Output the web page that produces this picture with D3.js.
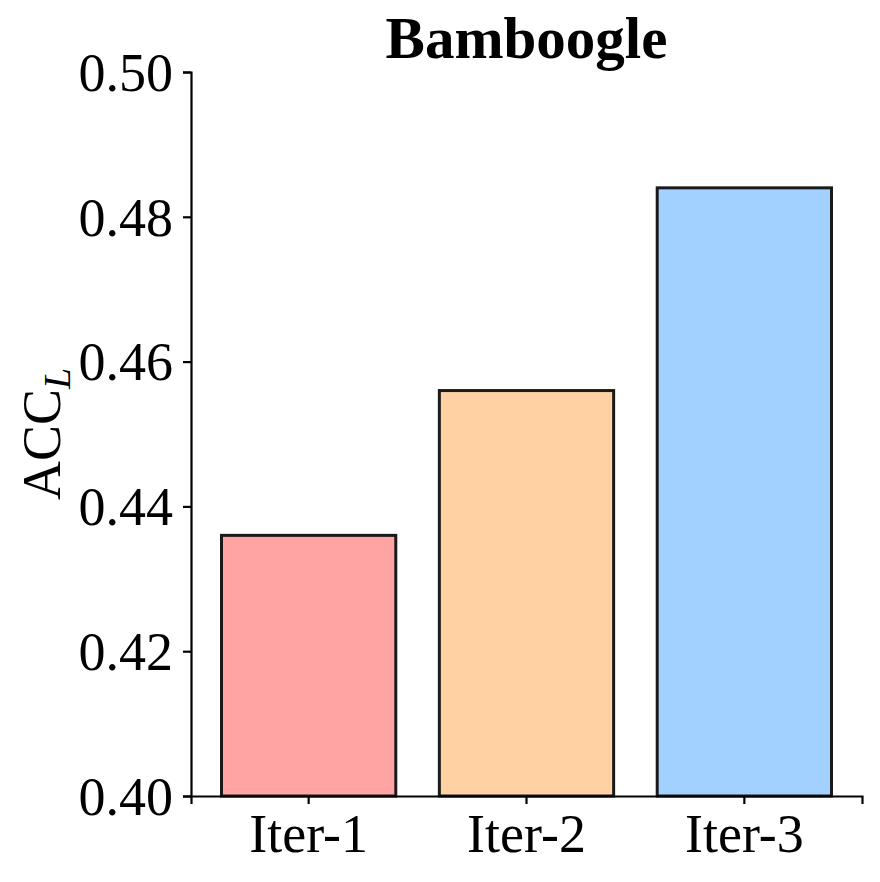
<!DOCTYPE html>
<html>
<head>
<meta charset="utf-8">
<script src="https://cdn.jsdelivr.net/npm/d3@7"></script>
<style>
  body { margin: 0; background: #fff; }
  svg { display: block; font-family: "Liberation Serif", "Times New Roman", serif; }
</style>
</head>
<body>
<div id="chart"></div>
<script>
// chart data
const categories = ['Iter-1', 'Iter-2', 'Iter-3'];
const values = [0.436, 0.456, 0.484];
const barColors = ['#FFA3A3', '#FFD1A3', '#A3D1FF'];
const yTicks = [0.40, 0.42, 0.44, 0.46, 0.48, 0.50];
const title = 'Bamboogle';

const width = 880, height = 882;
const margin = { top: 72, right: 18, bottom: 86, left: 191 };
const innerW = width - margin.left - margin.right;
const innerH = height - margin.top - margin.bottom;

const svg = d3.select('#chart').append('svg')
  .attr('width', width)
  .attr('height', height);

const g = svg.append('g')
  .attr('transform', `translate(${margin.left},${margin.top})`);

const x = d3.scaleBand()
  .domain(categories)
  .range([0, innerW])
  .paddingInner(0.2)
  .paddingOuter(0.14);

const y = d3.scaleLinear()
  .domain([0.40, 0.50])
  .range([innerH, 0]);

// bars
g.selectAll('.bar')
  .data(categories)
  .enter().append('rect')
  .attr('class', 'bar')
  .attr('x', d => x(d))
  .attr('width', x.bandwidth())
  .attr('y', (d, i) => y(values[i]))
  .attr('height', (d, i) => innerH - y(values[i]))
  .attr('fill', (d, i) => barColors[i])
  .attr('stroke', '#1a1a1a')
  .attr('stroke-width', 3);

// axes
const yAxis = g.append('g')
  .call(d3.axisLeft(y).tickValues(yTicks).tickFormat(d3.format('.2f')).tickSizeOuter(0).tickSize(8).tickPadding(10));

const xAxis = g.append('g')
  .attr('transform', `translate(0,${innerH})`)
  .call(d3.axisBottom(x).tickSizeOuter(0).tickSize(8).tickPadding(10));

[xAxis, yAxis].forEach(ax => {
  ax.select('.domain').attr('stroke', '#000').attr('stroke-width', 2.2);
  ax.selectAll('.tick line').attr('stroke', '#000').attr('stroke-width', 2.2);
  ax.selectAll('.tick text')
    .attr('fill', '#000')
    .style('font-family', '"Liberation Serif", "Times New Roman", serif')
    .style('font-size', '54px');
});
yAxis.selectAll('.tick text').attr('dy', '0.34em');
xAxis.selectAll('.tick text').attr('dy', '0.7em');

// title
svg.append('text')
  .attr('x', margin.left + innerW / 2)
  .attr('y', 58)
  .attr('text-anchor', 'middle')
  .style('font-size', '59px')
  .style('font-weight', 'bold')
  .text(title);

// y label with italic subscript
const yLabel = svg.append('text')
  .attr('transform', `translate(60,${margin.top + innerH / 2}) rotate(-90)`)
  .attr('text-anchor', 'middle')
  .style('font-size', '54px');
yLabel.append('tspan').text('ACC');
yLabel.append('tspan')
  .attr('dy', 10)
  .style('font-size', '38px')
  .style('font-style', 'italic')
  .text('L');
</script>
</body>
</html>
